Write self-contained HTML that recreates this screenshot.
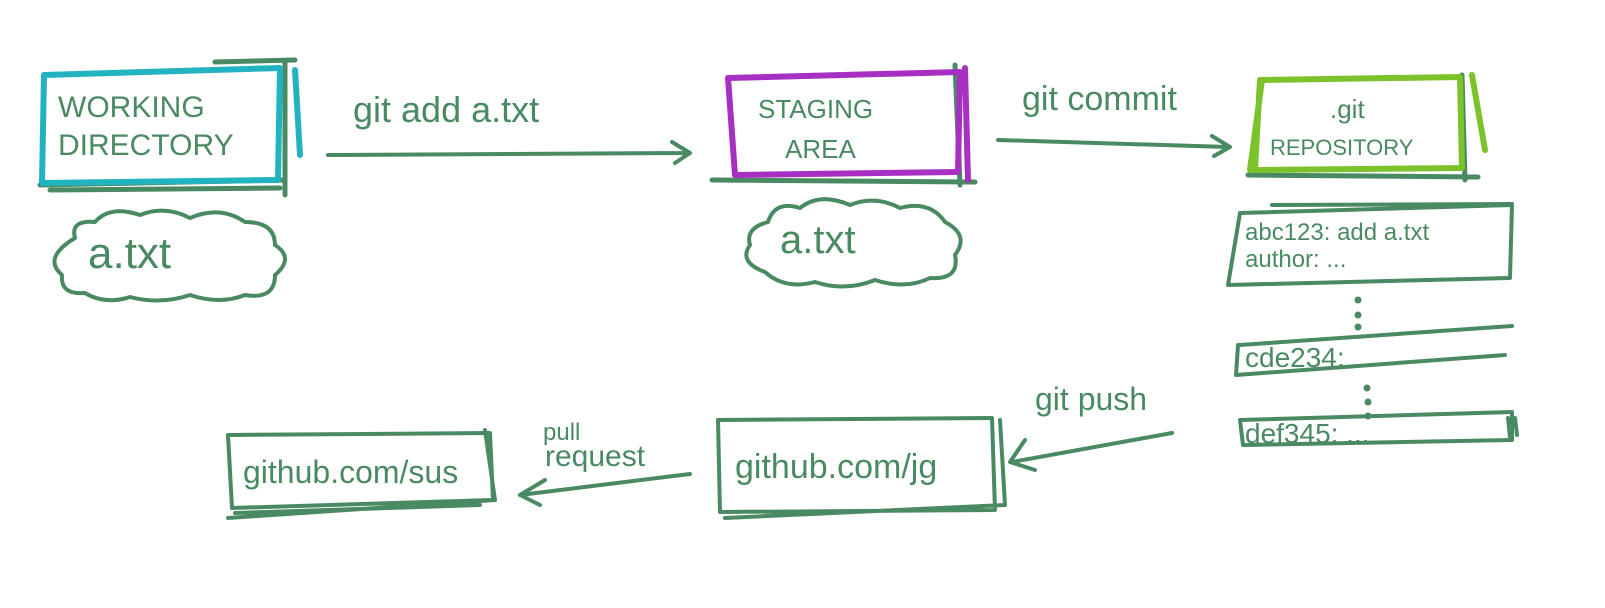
<!DOCTYPE html>
<html><head><meta charset="utf-8"><style>
html,body{margin:0;padding:0;background:#fff;}
svg{display:block}
text{font-family:"Liberation Sans",sans-serif;fill:#4a8a62;}
</style></head><body>
<svg width="1605" height="608" viewBox="0 0 1605 608" xmlns="http://www.w3.org/2000/svg">
<g fill="none" stroke-linecap="round" stroke-linejoin="round">
<g stroke="#4a8a62" stroke-width="5">
<path d="M40 185 L285 180 M50 190 L280 188 M285 62 L285 195 M215 62 L295 60"/>
</g>
<g stroke="#22b3c1" stroke-width="6">
<path d="M44 75 L280 68 L278 180 L42 183 Z M295 70 L300 155"/>
</g>
<g stroke="#4a8a62" stroke-width="5">
<path d="M712 180 L975 182 M955 65 L960 185"/>
</g>
<g stroke="#a72fc2" stroke-width="6">
<path d="M728 78 L960 72 L958 172 L735 175 Z M965 68 L968 180"/>
</g>
<g stroke="#4a8a62" stroke-width="5">
<path d="M1248 175 L1478 177 M1462 75 L1465 180"/>
</g>
<g stroke="#7cc22a" stroke-width="6">
<path d="M1260 80 L1460 77 L1462 168 L1255 170 Z M1472 75 L1485 150 M1250 170 L1262 80"/>
</g>
<g stroke="#4a8a62" stroke-width="4">
<path d="M328 155 L688 153 M672 142 L690 153 L675 163"/>
<path d="M998 140 L1228 147 M1212 136 L1230 147 L1214 156"/>
<path d="M1172 433 L1012 462 M1025 440 L1010 462 L1035 470"/>
<path d="M690 474 L520 495 M545 480 L520 495 L540 505"/>
<path d="M75 238 Q70 220 95 222 Q110 205 140 215 Q165 205 190 218 Q220 205 245 222 Q275 222 275 245 Q295 258 275 275 Q275 300 245 295 Q220 305 190 295 Q160 305 130 297 Q105 305 85 293 Q60 295 62 275 Q42 258 75 238 Z"/>
<path d="M768 222 Q775 200 800 208 Q820 192 850 205 Q875 195 900 208 Q930 200 945 222 Q970 235 955 255 Q960 280 930 278 Q905 290 875 280 Q845 292 815 282 Q785 290 765 272 Q738 262 750 245 Q745 228 768 222 Z"/>
<path d="M1240 213 L1512 205 L1510 278 L1228 285 Z"/>
<path d="M1272 205 L1512 204"/>
<path d="M1240 345 L1512 326 M1238 345 L1236 375 L1505 355"/>
<path d="M1240 420 L1512 412 L1512 440 L1243 445 Z M1515 418 L1517 435 M1508 418 L1510 437"/>
<path d="M718 420 L992 418 L995 510 L720 512 Z M1000 420 L1005 505 M725 518 L1005 505"/>
<path d="M228 435 L490 433 L493 500 L232 508 Z M485 430 L495 500 M228 518 L495 500 M235 513 L480 505"/>
</g>
<g fill="#4a8a62">
<circle cx="1358" cy="300" r="3.5"/><circle cx="1358" cy="315" r="3.5"/><circle cx="1358" cy="327" r="3.5"/>
<circle cx="1367" cy="388" r="3.5"/><circle cx="1368" cy="402" r="3.5"/><circle cx="1368" cy="416" r="3.5"/>
</g>
</g>
<text x="58" y="117" font-size="30">WORKING</text>
<text x="58" y="155" font-size="30">DIRECTORY</text>
<text x="353" y="122" font-size="36">git add a.txt</text>
<text x="88" y="268" font-size="44">a.txt</text>
<text x="758" y="118" font-size="26">STAGING</text>
<text x="785" y="158" font-size="26">AREA</text>
<text x="780" y="253" font-size="40">a.txt</text>
<text x="1022" y="110" font-size="34">git commit</text>
<text x="1330" y="118" font-size="26">.git</text>
<text x="1270" y="155" font-size="22">REPOSITORY</text>
<text x="1245" y="240" font-size="24">abc123: add a.txt</text>
<text x="1245" y="267" font-size="24">author: ...</text>
<text x="1245" y="367" font-size="28">cde234: ...</text>
<text x="1245" y="443" font-size="28">def345: ...</text>
<text x="1035" y="410" font-size="32">git push</text>
<text x="543" y="440" font-size="24">pull</text>
<text x="545" y="466" font-size="30">request</text>
<text x="735" y="478" font-size="34">github.com/jg</text>
<text x="243" y="483" font-size="32">github.com/sus</text>
</svg>
</body></html>
